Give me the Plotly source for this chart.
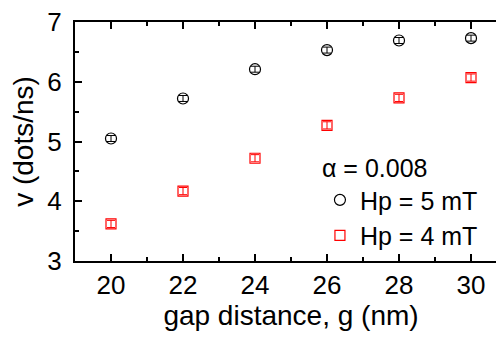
import plotly.graph_objects as go

gap = [20, 22, 24, 26, 28, 30]
v_hp5 = [5.05, 5.72, 6.21, 6.53, 6.69, 6.73]
v_hp4 = [3.62, 4.17, 4.72, 5.27, 5.73, 6.07]
err_hp5 = [0.05, 0.05, 0.05, 0.05, 0.05, 0.05]
err_hp4 = [0.06, 0.06, 0.06, 0.06, 0.06, 0.06]
names = ["Hp = 5 mT", "Hp = 4 mT"]
legend_title = "α = 0.008"

FONT = "Arial, Liberation Sans, sans-serif"

fig = go.Figure()
fig.add_trace(go.Scatter(
    x=gap, y=v_hp5, mode="markers", name=names[0],
    marker=dict(symbol="circle-open", size=11, color="black", line=dict(width=1.2)),
    error_y=dict(type="data", array=err_hp5, color="black", thickness=1, width=4),
))
fig.add_trace(go.Scatter(
    x=gap, y=v_hp4, mode="markers", name=names[1],
    marker=dict(symbol="square-open", size=10, color="red", line=dict(width=1.2)),
    error_y=dict(type="data", array=err_hp4, color="red", thickness=1, width=4),
))

axis_common = dict(
    showline=True, linecolor="black", linewidth=2, mirror="ticks",
    ticks="inside", ticklen=7, tickwidth=1.5, tickcolor="black",
    showgrid=False, zeroline=False, automargin=False,
    ticklabeloverflow="allow",
    tickfont=dict(family=FONT, size=26, color="black"),
    minor=dict(ticks="inside", ticklen=4, tickwidth=1.5, tickcolor="black", showgrid=False),
)

fig.update_xaxes(
    range=[19, 31], tickmode="array", tickvals=[20, 22, 24, 26, 28, 30],
    minor_dtick=1, ticklabelstandoff=0,
    title=dict(text="gap distance, g (nm)", font=dict(family=FONT, size=28, color="black"), standoff=6),
    **axis_common,
)
fig.update_yaxes(
    range=[3, 7], dtick=1, minor_dtick=0.5, ticklabelstandoff=6,
    title=dict(text="v (dots/ns)", font=dict(family=FONT, size=28, color="black"), standoff=7),
    **axis_common,
)

fig.update_layout(
    width=504, height=342,
    margin=dict(l=67, r=5, t=14, b=89),
    plot_bgcolor="white", paper_bgcolor="white",
    font=dict(family=FONT, color="black"),
    legend=dict(
        x=0.567, y=0.487, xanchor="left", yanchor="top",
        bgcolor="rgba(0,0,0,0)", borderwidth=0,
        font=dict(family=FONT, size=25, color="black"),
        title=dict(text=legend_title, font=dict(family=FONT, size=25, color="black")),
        itemsizing="trace",
    ),
)

fig.write_html("out.html")
